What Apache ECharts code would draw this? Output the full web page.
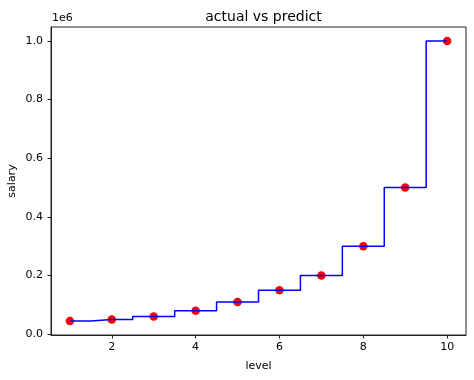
<!DOCTYPE html>
<html>
<head>
<meta charset="utf-8">
<script src="https://cdn.jsdelivr.net/npm/echarts@6/dist/echarts.min.js"></script>
<style>
html,body{margin:0;padding:0;background:#fff;}
#chart{width:474px;height:380px;}
</style>
</head>
<body>
<div id="chart"></div>
<script>
var levels = [1, 2, 3, 4, 5, 6, 7, 8, 9, 10];
var salaries = [45000, 50000, 60000, 80000, 110000, 150000, 200000, 300000, 500000, 1000000];
var xTicks = [2, 4, 6, 8, 10];
var yTicks = [0, 200000, 400000, 600000, 800000, 1000000];
var yTickLabels = ['0.0', '0.2', '0.4', '0.6', '0.8', '1.0'];

var FONT = 'DejaVu Sans';
var xMinD = Math.min.apply(null, levels), xMaxD = Math.max.apply(null, levels);
var yMinD = Math.min.apply(null, salaries), yMaxD = Math.max.apply(null, salaries);
var xm = (xMaxD - xMinD) * 0.05, ym = (yMaxD - yMinD) * 0.05;

var pts = levels.map(function (l, i) { return [l, salaries[i]]; });

var chart = echarts.init(document.getElementById('chart'), null, {renderer: 'canvas'});
chart.setOption({
  animation: false,
  backgroundColor: '#fff',
  title: {
    text: 'actual vs predict',
    left: 258.5,
    textAlign: 'center',
    top: 5,
    textStyle: {fontFamily: FONT, fontSize: 14, fontWeight: 'normal', color: '#000'}
  },
  grid: {left: 51, right: 8, top: 27, bottom: 45, containLabel: false, outerBoundsMode: 'none',
    show: true, borderColor: '#222', borderWidth: 1, backgroundColor: 'transparent'},
  graphic: [{
    type: 'text', left: 52, top: 13,
    style: {text: '1e6', font: '11px "DejaVu Sans"', fill: '#000'}
  }],
  xAxis: {
    type: 'value',
    min: xMinD - xm, max: xMaxD + xm,
    name: 'level', nameLocation: 'middle', nameGap: 26, nameMoveOverlap: false,
    nameTextStyle: {fontFamily: FONT, fontSize: 11, color: '#000'},
    axisLine: {show: true, onZero: false, lineStyle: {color: '#222', width: 1}},
    axisTick: {show: true, customValues: xTicks, length: 3.5, lineStyle: {color: '#222'}},
    axisLabel: {customValues: xTicks, fontFamily: FONT, fontSize: 11, color: '#000', margin: 7},
    splitLine: {show: false}
  },
  yAxis: {
    type: 'value',
    min: yMinD - ym, max: yMaxD + ym,
    name: 'salary', nameLocation: 'middle', nameGap: 33, nameMoveOverlap: false,
    nameTextStyle: {fontFamily: FONT, fontSize: 11, color: '#000'},
    axisLine: {show: true, onZero: false, lineStyle: {color: '#222', width: 1}},
    axisTick: {show: true, customValues: yTicks, length: 3.5, lineStyle: {color: '#222'}},
    axisLabel: {
      customValues: yTicks, fontFamily: FONT, fontSize: 11, color: '#000', margin: 8,
      formatter: function (v) { var i = yTicks.indexOf(v); return i >= 0 ? yTickLabels[i] : ''; }
    },
    splitLine: {show: false}
  },
  series: [
    {
      type: 'scatter', data: pts, symbol: 'circle', symbolSize: 8.5,
      itemStyle: {color: '#ff0000', opacity: 1}, z: 2
    },
    {
      type: 'line', data: pts, step: 'middle', showSymbol: false, symbol: 'none',
      lineStyle: {color: '#0000ff', width: 1.5}, z: 3
    }
  ]
});
</script>
</body>
</html>
